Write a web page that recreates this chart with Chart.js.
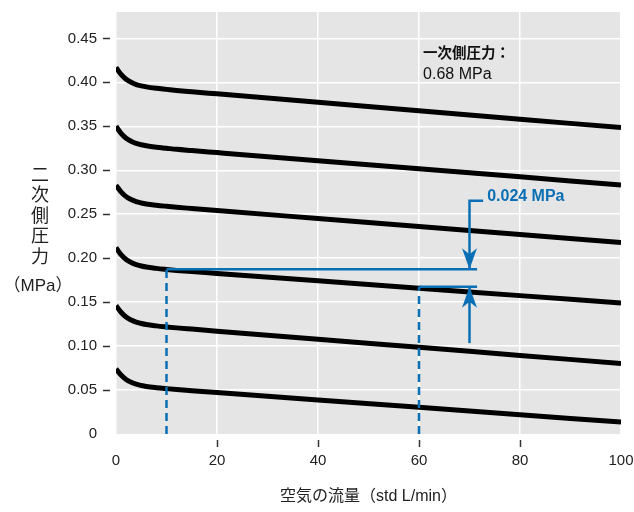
<!DOCTYPE html>
<html>
<head>
<meta charset="utf-8">
<script src="https://cdn.jsdelivr.net/npm/chart.js@4.4.1/dist/chart.umd.min.js"></script>
<style>
  html, body { margin: 0; padding: 0; background: #fff; }
  #wrap { width: 634px; height: 512px; }
</style>
</head>
<body>
<div id="wrap"><canvas id="chart" width="634" height="512"></canvas></div>
<script>
// 空気の流量 (std L/min)
const flow = [0, 1, 2, 3, 4, 5, 6, 8, 10, 12, 15, 20, 40, 60, 80, 100];

// 二次側圧力 (MPa) — 設定圧ごとの曲線
const set1 = [0.417, 0.409, 0.4035, 0.400, 0.3975, 0.396, 0.3948, 0.3932, 0.3920, 0.3908, 0.3893, 0.3869, 0.3773, 0.3677, 0.3581, 0.3485];
const set2 = [0.350, 0.342, 0.3365, 0.333, 0.3305, 0.329, 0.3278, 0.3262, 0.3250, 0.3238, 0.3224, 0.3201, 0.3109, 0.3017, 0.2925, 0.2833];
const set3 = [0.283, 0.2755, 0.270, 0.2667, 0.2643, 0.2628, 0.2617, 0.2602, 0.2590, 0.2579, 0.2565, 0.2542, 0.2451, 0.2360, 0.2269, 0.2178];
const set4 = [0.212, 0.204, 0.1985, 0.195, 0.1926, 0.1911, 0.1899, 0.1884, 0.1872, 0.1861, 0.1847, 0.1826, 0.1742, 0.1658, 0.1574, 0.149];
const set5 = [0.146, 0.1385, 0.133, 0.1296, 0.1272, 0.1257, 0.1245, 0.1230, 0.1218, 0.1207, 0.1193, 0.1170, 0.1078, 0.0986, 0.0894, 0.0802];
const set6 = [0.074, 0.067, 0.062, 0.0588, 0.0566, 0.0552, 0.0541, 0.0527, 0.0516, 0.0506, 0.0493, 0.0471, 0.0387, 0.0303, 0.0219, 0.0135];
const curves = [set1, set2, set3, set4, set5, set6];

// 目盛り
const xTicks = [0, 20, 40, 60, 80, 100];
const yTicks = [0, 0.05, 0.10, 0.15, 0.20, 0.25, 0.30, 0.35, 0.40, 0.45];

// 圧力降下の注記 (0.024 MPa)
const refFlow = [10, 60];
const refPress = [0.1875, 0.1674];
const markFlow = 70;
const refLineEnd = 71.5;
const elbowEnd = 72.7;
const arrowTop = 0.2653;
const arrowBottom = 0.1034;
const dropLabel = '0.024 MPa';

// 一次側圧力の注記
const inletLabel = ['一次側圧力：', '0.68 MPa'];
const inletPos = { x: 60.8, y: [0.434, 0.409] };

const blue = '#0a6fb5';
const latin = "'Liberation Sans', Arial, Helvetica, sans-serif";
const cjk = "'Noto Sans CJK JP', 'Noto Sans CJK SC', sans-serif";

Chart.defaults.font.family = latin + ", 'Noto Sans CJK JP'";
Chart.defaults.color = '#222';

function pts(ys) {
    return flow.map((x, i) => ({ x: x, y: ys[i] }));
}

const datasets = curves.map(ys => ({
    data: pts(ys),
    borderColor: '#000',
    borderWidth: 5,
    pointRadius: 0,
    cubicInterpolationMode: 'monotone',
    order: 2,
}));

function blueLine(points, dashed) {
    return {
        data: points,
        borderColor: blue,
        borderWidth: 2.5,
        borderDash: dashed ? [8, 5] : [],
        borderCapStyle: 'butt',
        pointRadius: 0,
        tension: 0,
        order: 1,
    };
}

datasets.push(blueLine([{ x: refFlow[0], y: 0 }, { x: refFlow[0], y: refPress[0] }], true));
datasets.push(blueLine([{ x: refFlow[1], y: 0 }, { x: refFlow[1], y: refPress[1] }], true));
datasets.push(blueLine([{ x: refFlow[0], y: refPress[0] }, { x: refLineEnd, y: refPress[0] }], false));
datasets.push(blueLine([{ x: refFlow[1], y: refPress[1] }, { x: refLineEnd, y: refPress[1] }], false));
datasets.push(blueLine([{ x: elbowEnd, y: arrowTop }, { x: markFlow, y: arrowTop }, { x: markFlow, y: refPress[0] }], false));
datasets.push(blueLine([{ x: markFlow, y: arrowBottom }, { x: markFlow, y: refPress[1] }], false));

function arrowHead(ctx, x, tipY, dir) {
    // dir = 1: 下向き, dir = -1: 上向き
    ctx.beginPath();
    ctx.moveTo(x, tipY);
    ctx.lineTo(x - 7.5, tipY - dir * 21);
    ctx.lineTo(x, tipY - dir * 15);
    ctx.lineTo(x + 7.5, tipY - dir * 21);
    ctx.closePath();
    ctx.fill();
}

const decor = {
    id: 'decor',
    beforeDraw(chart) {
        const a = chart.chartArea;
        const ctx = chart.ctx;
        ctx.save();
        ctx.fillStyle = '#e5e5e5';
        ctx.fillRect(a.left, a.top, a.right - a.left, a.bottom - a.top);
        ctx.restore();
    },
    afterDraw(chart) {
        const ctx = chart.ctx;
        const a = chart.chartArea;
        const xs = chart.scales.x;
        const ys = chart.scales.y;
        ctx.save();

        // 目盛り線 (プロット外側、少し離して)
        ctx.strokeStyle = '#333';
        ctx.lineWidth = 1.5;
        yTicks.forEach(v => {
            if (v === 0) return;
            const py = Math.round(ys.getPixelForValue(v)) + 0.5;
            ctx.beginPath();
            ctx.moveTo(a.left - 13, py);
            ctx.lineTo(a.left - 6, py);
            ctx.stroke();
        });
        xTicks.forEach(v => {
            if (v === 0 || v === 100) return;
            const px = Math.round(xs.getPixelForValue(v)) + 0.5;
            ctx.beginPath();
            ctx.moveTo(px, a.bottom + 6);
            ctx.lineTo(px, a.bottom + 13);
            ctx.stroke();
        });

        // 矢印
        ctx.fillStyle = blue;
        const ax = xs.getPixelForValue(markFlow);
        arrowHead(ctx, ax, ys.getPixelForValue(refPress[0]), 1);
        arrowHead(ctx, ax, ys.getPixelForValue(refPress[1]), -1);

        ctx.textBaseline = 'middle';
        ctx.textAlign = 'left';
        ctx.font = 'bold 16px ' + latin;
        ctx.fillText(dropLabel, xs.getPixelForValue(elbowEnd) + 4, ys.getPixelForValue(arrowTop) - 4);

        // 一次側圧力
        ctx.fillStyle = '#111';
        ctx.font = 'bold 14.5px ' + cjk;
        ctx.fillText(inletLabel[0], xs.getPixelForValue(inletPos.x), ys.getPixelForValue(inletPos.y[0]));
        ctx.font = '16px ' + latin;
        ctx.fillText(inletLabel[1], xs.getPixelForValue(inletPos.x), ys.getPixelForValue(inletPos.y[1]));

        // 軸タイトル
        ctx.fillStyle = '#222';
        ctx.textAlign = 'center';
        ctx.font = '18px ' + cjk;
        const yTitle = ['二', '次', '側', '圧', '力'];
        yTitle.forEach((c, i) => ctx.fillText(c, 40, 174 + i * 20.5));
        ctx.font = '17px ' + latin + ", 'Noto Sans CJK JP'";
        ctx.fillText('（MPa）', 38, 286);

        ctx.font = '16px ' + latin + ", 'Noto Sans CJK JP'";
        ctx.fillText('空気の流量（std L/min）', (a.left + a.right) / 2, 497);

        ctx.restore();
    }
};

new Chart(document.getElementById('chart'), {
    type: 'line',
    data: { datasets: datasets },
    options: {
        responsive: false,
        animation: false,
        layout: { padding: { top: 12, right: 13, left: 0, bottom: 0 } },
        plugins: {
            legend: { display: false },
            tooltip: { enabled: false },
        },
        scales: {
            x: {
                type: 'linear',
                min: 0,
                max: 100,
                afterFit(scale) {
                    scale.height = 78;
                    scale.paddingLeft = 0;
                    scale.paddingRight = 0;
                },
                afterBuildTicks(scale) { scale.ticks = xTicks.map(v => ({ value: v })); },
                border: { display: false },
                grid: { color: '#ffffff', lineWidth: 1.5, drawTicks: false },
                ticks: {
                    autoSkip: false,
                    maxRotation: 0,
                    padding: 18,
                    font: { size: 15 },
                    color: '#222',
                },
            },
            y: {
                type: 'linear',
                min: 0,
                max: 0.48,
                afterFit(scale) {
                    scale.width = 116;
                    scale.paddingTop = 0;
                    scale.paddingBottom = 0;
                },
                afterBuildTicks(scale) { scale.ticks = yTicks.map(v => ({ value: v })); },
                border: { display: false },
                grid: {
                    color: ctx => (ctx.tick && ctx.tick.value === 0 ? 'rgba(0,0,0,0)' : '#ffffff'),
                    lineWidth: 1.5,
                    drawTicks: false,
                },
                ticks: {
                    padding: 19,
                    font: { size: 15 },
                    color: '#222',
                    callback: v => (v === 0 ? '0' : v.toFixed(2)),
                },
            },
        },
    },
    plugins: [decor],
});
</script>
</body>
</html>
